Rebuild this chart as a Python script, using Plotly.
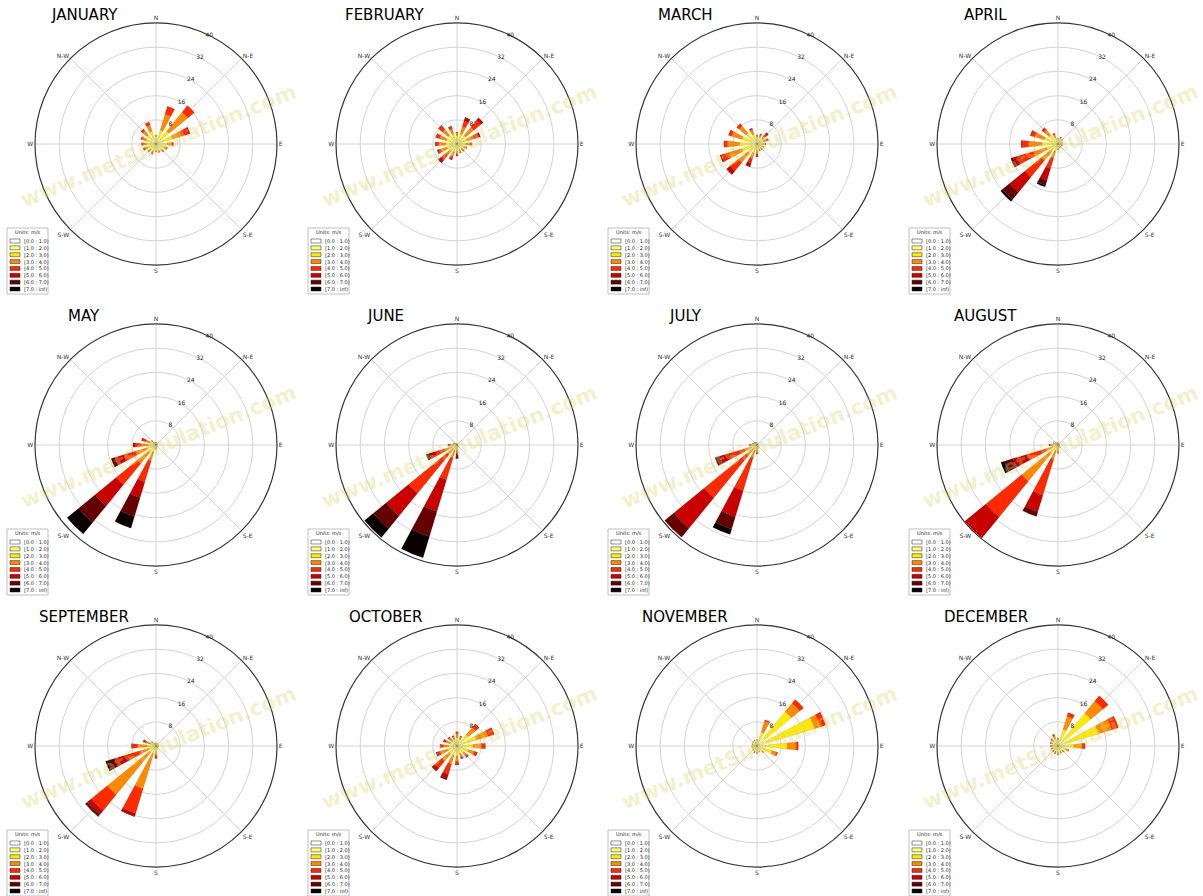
import plotly.graph_objects as go

W, H = 1203, 896

MONTHS = ["JANUARY", "FEBRUARY", "MARCH", "APRIL", "MAY", "JUNE",
          "JULY", "AUGUST", "SEPTEMBER", "OCTOBER", "NOVEMBER", "DECEMBER"]
DIRECTIONS = ["N", "NNE", "NE", "ENE", "E", "ESE", "SE", "SSE",
              "S", "SSW", "SW", "WSW", "W", "WNW", "NW", "NNW"]
THETA = [0, 22.5, 45, 67.5, 90, 112.5, 135, 157.5,
         180, 202.5, 225, 247.5, 270, 292.5, 315, 337.5]
SPEED_BINS = ["[0.0 : 1.0)", "[1.0 : 2.0)", "[2.0 : 3.0)", "[3.0 : 4.0)",
              "[4.0 : 5.0)", "[5.0 : 6.0)", "[6.0 : 7.0)", "[7.0 : inf)"]
COLORS = ["#ffffff", "#ffff70", "#ffea00", "#ff8a00",
          "#ff2b00", "#c80000", "#640000", "#0a0000"]
ANG_TICKS = [0, 45, 90, 135, 180, 225, 270, 315]
ANG_LABELS = ["N", "N-E", "E", "S-E", "S", "S-W", "W", "N-W"]
R_TICKS = [8, 16, 24, 32, 40]
R_LABELS = ["8", "16", "24", "32", "40"]
WATERMARK = "www.metSimulation.com"
LEGEND_TITLE = "Units: m/s"

# frequency (%) per direction (rows N..NNW), per speed bin (columns)
JAN = [[0.3, 1.0, 1.2, 0.5], [0.3, 1.5, 3.0, 5.5, 2.7], [0.3, 1.8, 3.5, 8.0, 2.8],
       [0.3, 2.0, 3.5, 3.0, 2.5, 0.5], [0.3, 1.5, 2.0, 1.5, 0.5], [0.3, 1.2, 1.5, 0.8, 0.2],
       [0.3, 1.2, 1.2, 0.6, 0.2], [0.3, 1.0, 1.0, 0.5, 0.2], [0.3, 0.9, 0.9, 0.4, 0.1],
       [0.3, 1.0, 1.2, 0.8, 0.3], [0.3, 1.0, 1.2, 0.7, 0.3], [0.3, 1.2, 1.5, 1.0, 0.5],
       [0.3, 1.3, 1.6, 1.1, 0.5], [0.3, 1.4, 1.8, 1.3, 0.5], [0.3, 1.5, 2.2, 1.8, 0.7],
       [0.3, 1.6, 2.5, 2.2, 1.0]]
FEB = [[0.3, 1.0, 1.5, 1.0, 0.2], [0.3, 1.2, 2.0, 2.5, 2.0, 1.0, 0.2], [0.3, 1.2, 2.2, 3.5, 3.0, 1.0],
       [0.3, 1.2, 2.0, 2.5, 1.6, 0.5], [0.3, 1.0, 1.5, 1.5, 0.7], [0.3, 0.9, 1.2, 0.8, 0.3],
       [0.3, 0.8, 1.0, 0.8, 0.3], [0.3, 0.8, 1.0, 0.8, 0.3], [0.3, 0.9, 1.2, 1.0, 0.6],
       [0.3, 1.0, 1.5, 1.5, 1.0, 0.2], [0.3, 1.0, 1.6, 2.0, 2.0, 1.0, 0.2], [0.3, 1.2, 2.0, 2.0, 1.2, 0.2],
       [0.3, 1.3, 2.2, 2.2, 1.0, 0.2], [0.3, 1.3, 2.2, 2.3, 1.1, 0.2], [0.3, 1.3, 2.2, 2.5, 1.5, 0.2],
       [0.3, 1.2, 2.0, 1.8, 0.8, 0.1]]
MAR = [[0.3, 0.9, 1.1, 0.5, 0.2], [0.3, 0.9, 1.2, 0.8, 0.3], [0.3, 0.8, 1.2, 1.2, 1.0, 0.4],
       [0.3, 0.9, 1.2, 1.0, 0.6], [0.3, 0.8, 1.0, 0.6, 0.3], [0.3, 0.7, 0.8, 0.5, 0.2],
       [0.3, 0.7, 0.8, 0.5, 0.2], [0.3, 0.7, 0.8, 0.5, 0.2], [0.3, 0.8, 1.0, 1.0, 0.8, 0.3],
       [0.3, 1.0, 1.8, 2.0, 1.6, 1.0, 0.2], [0.3, 1.2, 2.5, 4.0, 3.5, 1.4, 0.2], [0.3, 1.5, 3.5, 4.5, 2.5, 0.5],
       [0.3, 1.5, 4.0, 4.0, 1.2], [0.3, 1.5, 3.5, 3.5, 1.1], [0.3, 1.4, 3.0, 3.0, 1.0],
       [0.3, 1.1, 2.0, 1.5, 0.6]]
APR = [[0.3, 0.7, 0.7, 0.3], [0.3, 0.8, 0.8, 0.4, 0.2], [0.3, 0.7, 0.6, 0.3, 0.1],
       [0.2, 0.5, 0.5, 0.2, 0.1], [0.2, 0.5, 0.5, 0.2, 0.1], [0.2, 0.5, 0.5, 0.2, 0.1],
       [0.2, 0.5, 0.5, 0.2, 0.1], [0.2, 0.5, 0.5, 0.2, 0.1], [0.2, 0.5, 0.6, 0.4, 0.3],
       [0.2, 0.8, 1.5, 2.5, 3.5, 4.0, 1.8, 0.5], [0.2, 1.0, 2.0, 4.0, 7.0, 6.5, 3.0, 0.8],
       [0.3, 1.2, 2.5, 4.5, 4.5, 2.5, 0.8], [0.3, 1.5, 3.5, 4.5, 2.0, 0.4],
       [0.3, 1.5, 3.0, 3.3, 1.3, 0.2], [0.3, 1.2, 2.3, 2.2, 0.8, 0.2], [0.3, 0.8, 1.2, 1.0, 0.5]]
MAY = [[0.2, 0.4, 0.3, 0.1], [0.2, 0.3, 0.2, 0.1], [0.1, 0.2, 0.1, 0.1], [0.1, 0.2, 0.1, 0.1],
       [0.1, 0.2, 0.1, 0.1], [0.1, 0.2, 0.1, 0.1], [0.1, 0.2, 0.1, 0.1], [0.1, 0.3, 0.2, 0.2],
       [0.1, 0.3, 0.4, 0.4, 0.3], [0.2, 0.8, 1.5, 3.0, 7.3, 5.4, 6.5, 4.0],
       [0.2, 0.8, 2.0, 5.0, 9.0, 9.0, 7.0, 5.0], [0.2, 1.0, 2.0, 4.0, 4.0, 3.0, 1.3],
       [0.2, 0.8, 1.5, 2.5, 1.8, 0.8], [0.2, 0.7, 1.2, 1.5, 1.0, 0.4], [0.2, 0.4, 0.6, 0.5, 0.3],
       [0.1, 0.3, 0.3, 0.2, 0.1]]
JUN = [[0.1, 0.2, 0.2, 0.1], [0.1, 0.2, 0.1], [0.1, 0.1, 0.1], [0.1, 0.1, 0.1],
       [0.1, 0.1, 0.1], [0.1, 0.1, 0.1], [0.1, 0.1, 0.1, 0.1], [0.1, 0.2, 0.2, 0.2, 0.1],
       [0.1, 0.3, 0.5, 0.8, 1.0, 1.0, 0.6, 0.2], [0.2, 0.6, 1.2, 2.5, 7.5, 11.0, 8.6, 7.3],
       [0.2, 0.5, 1.0, 2.5, 16.5, 9.5, 5.5, 3.8], [0.2, 0.6, 1.2, 2.5, 3.0, 2.0, 1.0, 0.2],
       [0.2, 0.5, 0.8, 0.9, 0.5, 0.1], [0.1, 0.3, 0.4, 0.4, 0.2], [0.1, 0.2, 0.3, 0.2, 0.1],
       [0.1, 0.2, 0.2, 0.1]]
JUL = [[0.1, 0.3, 0.3, 0.1], [0.1, 0.2, 0.2, 0.1], [0.1, 0.2, 0.1, 0.1], [0.1, 0.2, 0.1, 0.1],
       [0.1, 0.2, 0.1, 0.1], [0.1, 0.2, 0.1, 0.1], [0.1, 0.2, 0.2, 0.1], [0.1, 0.3, 0.3, 0.3, 0.2],
       [0.1, 0.3, 0.5, 0.7, 0.8, 0.5, 0.1], [0.2, 0.5, 1.0, 2.5, 11.7, 8.9, 4.2, 1.9],
       [0.2, 0.5, 1.0, 3.0, 17.9, 12.9, 3.9], [0.2, 0.6, 1.2, 2.5, 5.0, 3.5, 1.5],
       [0.2, 0.5, 0.7, 0.6, 0.4, 0.1], [0.1, 0.4, 0.5, 0.4, 0.2], [0.1, 0.3, 0.4, 0.3, 0.1],
       [0.1, 0.3, 0.3, 0.2, 0.1]]
AUG = [[0.1, 0.3, 0.3, 0.2], [0.1, 0.3, 0.2, 0.1], [0.1, 0.2, 0.2, 0.1], [0.1, 0.2, 0.2, 0.1],
       [0.1, 0.2, 0.2, 0.1], [0.1, 0.2, 0.2, 0.1], [0.1, 0.2, 0.2, 0.1], [0.1, 0.3, 0.3, 0.3, 0.1],
       [0.1, 0.4, 0.6, 0.8, 0.6, 0.2], [0.2, 0.6, 1.2, 3.0, 12.4, 5.6, 1.7],
       [0.2, 0.8, 2.5, 12.0, 15.3, 9.0], [0.2, 0.6, 1.2, 2.5, 6.0, 5.0, 3.0, 1.2],
       [0.2, 0.6, 0.9, 0.8, 0.4, 0.1], [0.1, 0.4, 0.6, 0.5, 0.2], [0.1, 0.3, 0.4, 0.3, 0.1],
       [0.1, 0.3, 0.3, 0.2]]
SEP = [[0.2, 0.4, 0.3, 0.1], [0.2, 0.4, 0.3, 0.1], [0.2, 0.3, 0.3, 0.1], [0.2, 0.3, 0.3, 0.1],
       [0.2, 0.3, 0.3, 0.1], [0.2, 0.3, 0.3, 0.1], [0.2, 0.3, 0.3, 0.1], [0.2, 0.4, 0.4, 0.2],
       [0.2, 0.6, 1.0, 1.2, 0.9, 0.2], [0.2, 0.6, 2.0, 12.0, 8.5, 0.9, 0.2],
       [0.2, 0.6, 2.0, 18.0, 6.8, 1.8, 0.6, 0.2], [0.2, 0.6, 1.5, 3.0, 4.5, 4.5, 2.5, 0.6],
       [0.2, 0.8, 2.0, 3.0, 1.8, 0.3], [0.2, 0.6, 1.2, 1.5, 0.8, 0.2], [0.2, 0.5, 0.7, 0.4, 0.2],
       [0.2, 0.4, 0.4, 0.2]]
OCT = [[0.3, 1.0, 1.5, 1.3, 0.6], [0.3, 0.8, 1.2, 0.9, 0.3], [0.3, 1.5, 3.0, 3.2, 1.2, 0.3],
       [0.3, 2.0, 4.5, 4.0, 1.8, 0.3], [0.3, 1.5, 3.5, 2.8, 1.1, 0.2], [0.3, 1.2, 2.5, 2.0, 0.9, 0.2],
       [0.3, 1.0, 1.7, 1.3, 0.6, 0.1], [0.3, 0.9, 1.5, 1.2, 0.5, 0.1], [0.3, 1.0, 2.0, 1.8, 1.0, 0.2],
       [0.3, 1.0, 2.0, 3.0, 3.5, 1.5, 0.4], [0.3, 1.0, 2.0, 3.0, 3.2, 1.1, 0.2],
       [0.3, 1.0, 2.0, 2.4, 1.3, 0.3], [0.3, 0.9, 1.6, 1.7, 0.9, 0.2], [0.3, 0.8, 1.4, 1.4, 0.8, 0.1],
       [0.3, 0.7, 1.2, 1.1, 0.5, 0.1], [0.3, 0.7, 1.2, 1.0, 0.5]]
NOV = [[0.3, 0.8, 0.8, 0.3], [0.3, 1.5, 3.0, 3.8, 0.5], [0.3, 3.0, 11.4, 3.6, 1.6],
       [0.3, 3.0, 16.6, 2.0, 1.8], [0.3, 2.5, 7.2, 3.0, 0.7], [0.3, 1.5, 3.5, 1.5, 0.4],
       [0.3, 1.0, 1.2, 0.5], [0.3, 0.8, 0.8, 0.3], [0.3, 0.8, 0.9, 0.4, 0.1], [0.3, 0.8, 0.8, 0.4, 0.1],
       [0.3, 0.7, 0.7, 0.3], [0.3, 0.6, 0.6, 0.3], [0.3, 0.6, 0.6, 0.3], [0.3, 0.6, 0.6, 0.3],
       [0.3, 0.7, 0.7, 0.3], [0.3, 0.8, 0.8, 0.3]]
DEC = [[0.3, 0.8, 0.9, 0.5, 0.1], [0.3, 1.5, 4.0, 4.5, 1.3], [0.3, 2.0, 11.7, 5.2, 2.3],
       [0.3, 2.5, 11.3, 4.5, 2.3], [0.3, 1.5, 3.5, 2.7, 1.0], [0.3, 1.0, 1.5, 0.8, 0.2],
       [0.3, 0.8, 1.0, 0.5, 0.1], [0.3, 0.8, 0.9, 0.5, 0.1], [0.3, 0.9, 1.0, 0.6, 0.2],
       [0.3, 0.8, 0.9, 0.6, 0.2], [0.3, 0.7, 0.8, 0.5, 0.2], [0.3, 0.7, 0.8, 0.5, 0.2],
       [0.3, 0.7, 0.8, 0.5, 0.2], [0.3, 0.8, 0.9, 0.6, 0.2], [0.3, 0.9, 1.0, 0.7, 0.3],
       [0.3, 1.0, 1.3, 1.0, 0.5]]
MONTH_DATA = [JAN, FEB, MAR, APR, MAY, JUN, JUL, AUG, SEP, OCT, NOV, DEC]

# ---- layout constants (pixels) ----
COL_X = [156, 457, 757, 1058]
ROW_Y = [144, 445, 746]
RADIUS = 121
BAR_WIDTH = 11.5
FONT = "DejaVu Sans"


def px(x):
    return x / W


def py(y):
    return 1 - y / H


fig = go.Figure()
layout = {}
shapes = []
annotations = []

for m, rows in enumerate(MONTH_DATA):
    row, col = divmod(m, 4)
    cx, cy = COL_X[col], ROW_Y[row]
    pid = "polar" if m == 0 else f"polar{m + 1}"
    full = [list(r) + [0.0] * (len(SPEED_BINS) - len(r)) for r in rows]
    for b, label in enumerate(SPEED_BINS):
        fig.add_trace(go.Barpolar(
            r=[full[d][b] for d in range(len(DIRECTIONS))],
            theta=THETA,
            width=BAR_WIDTH,
            name=label,
            subplot=pid,
            showlegend=False,
            marker=dict(color=COLORS[b], line=dict(color="rgba(30,0,0,0.4)", width=0.25)),
        ))
    layout[pid] = dict(
        domain=dict(x=[px(cx - RADIUS), px(cx + RADIUS)], y=[py(cy + RADIUS), py(cy - RADIUS)]),
        bgcolor="white",
        barmode="stack",
        angularaxis=dict(
            rotation=90, direction="clockwise",
            tickmode="array", tickvals=ANG_TICKS, ticktext=ANG_LABELS,
            showgrid=True, gridcolor="#d4d4d4", gridwidth=0.8,
            showline=True, linecolor="#333333", linewidth=1.2,
            ticks="", tickfont=dict(size=6, color="#333333", family=FONT),
        ),
        radialaxis=dict(
            range=[0, 40], tickmode="array", tickvals=R_TICKS, ticktext=R_LABELS,
            angle=67.5, side="clockwise", showline=False, ticks="", tickangle=67.5,
            showgrid=True, gridcolor="#d4d4d4", gridwidth=0.8,
            tickfont=dict(size=6, color="#222222", family=FONT),
        ),
    )

    # month title
    annotations.append(dict(
        text=MONTHS[m], x=px(cx - 72), y=py(cy - 129), xref="paper", yref="paper",
        xanchor="center", yanchor="middle", showarrow=False,
        font=dict(size=15, color="black", family=FONT),
    ))

    # legend box
    lx0, ly0, lx1, ly1 = cx - 149, cy + 84, cx - 108, cy + 150
    shapes.append(dict(type="rect", xref="paper", yref="paper",
                       x0=px(lx0), x1=px(lx1), y0=py(ly1), y1=py(ly0),
                       fillcolor="white", line=dict(color="#b0b0b0", width=0.8)))
    annotations.append(dict(
        text=LEGEND_TITLE, x=px((lx0 + lx1) / 2), y=py(cy + 88), xref="paper", yref="paper",
        xanchor="center", yanchor="middle", showarrow=False,
        font=dict(size=5, color="#222222", family=FONT),
    ))
    for b, label in enumerate(SPEED_BINS):
        yc = cy + 97 + b * 6.86
        shapes.append(dict(type="rect", xref="paper", yref="paper",
                           x0=px(cx - 146), x1=px(cx - 136), y0=py(yc + 2), y1=py(yc - 2),
                           fillcolor=COLORS[b], line=dict(color="#222222", width=0.5)))
        annotations.append(dict(
            text=label, x=px(cx - 134), y=py(yc), xref="paper", yref="paper",
            xanchor="left", yanchor="middle", showarrow=False,
            font=dict(size=5, color="#222222", family=FONT),
        ))

    # watermark
    annotations.append(dict(
        text=WATERMARK, x=px(cx + 2), y=py(cy + 2), xref="paper", yref="paper",
        xanchor="center", yanchor="middle", showarrow=False, textangle=-22,
        font=dict(size=21, color="rgba(215,215,110,0.35)", family=FONT, weight="bold"),
    ))

fig.update_layout(
    width=W, height=H,
    margin=dict(l=0, r=0, t=0, b=0),
    paper_bgcolor="white",
    plot_bgcolor="white",
    showlegend=False,
    shapes=shapes,
    annotations=annotations,
    font=dict(family=FONT),
    **layout,
)

fig.write_html("out.html",
               config={"displayModeBar": False},
               post_script="document.body.style.margin='0px';document.body.style.overflow='hidden';")
